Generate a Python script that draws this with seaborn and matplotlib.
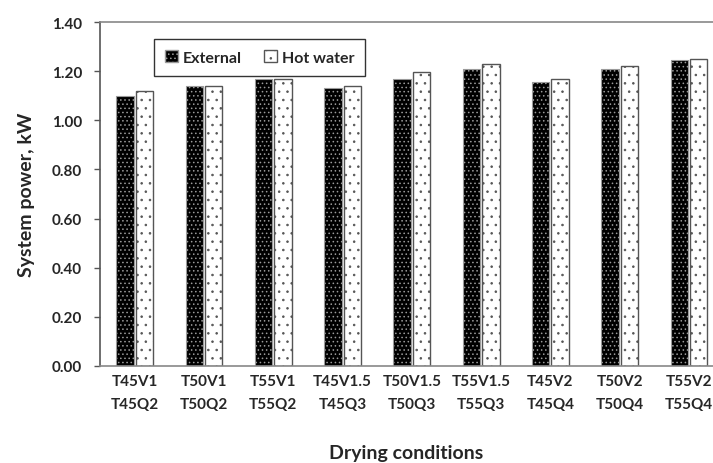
import matplotlib
matplotlib.use("Agg")
import matplotlib.pyplot as plt
import seaborn as sns
import pandas as pd
from matplotlib.patches import Patch

categories = ["T45V1\nT45Q2", "T50V1\nT50Q2", "T55V1\nT55Q2",
              "T45V1.5\nT45Q3", "T50V1.5\nT50Q3", "T55V1.5\nT55Q3",
              "T45V2\nT45Q4", "T50V2\nT50Q4", "T55V2\nT55Q4"]
external = [1.10, 1.14, 1.17, 1.13, 1.17, 1.21, 1.155, 1.21, 1.245]
hot_water = [1.12, 1.14, 1.17, 1.14, 1.195, 1.23, 1.17, 1.22, 1.25]
series = ["External", "Hot water"]
yticks = [0.0, 0.2, 0.4, 0.6, 0.8, 1.0, 1.2, 1.4]

df = pd.DataFrame({
    "cond": categories * 2,
    "value": external + hot_water,
    "series": [series[0]] * len(categories) + [series[1]] * len(categories),
})

sns.set_style("white")
plt.rcParams["font.family"] = ["Lato", "DejaVu Sans"]
plt.rcParams["font.weight"] = "bold"
plt.rcParams["hatch.linewidth"] = 0.6

fig = plt.figure(figsize=(7.13, 4.64), dpi=100)
ax = fig.add_axes([100 / 713, 97 / 464, 613 / 713, 344 / 464])

sns.barplot(data=df, x="cond", y="value", hue="series", order=categories,
            hue_order=series, palette=["black", "white"], width=0.56, gap=0.1,
            ax=ax, legend=False, saturation=1)

n = len(categories)
for i, p in enumerate(ax.patches[:2 * n]):
    if i < n:
        p.set_facecolor("black")
        p.set_edgecolor("#9a9a9a")
        p.set_hatch("....")
        p.set_linewidth(0.8)
    else:
        p.set_facecolor("white")
        p.set_edgecolor("#555555")
        p.set_hatch("..")
        p.set_linewidth(1.0)

ax.set_ylim(0, 1.4)
ax.set_xlim(-0.5, 8.346)
ax.set_yticks(yticks)
ax.set_yticklabels([f"{v:.2f}" for v in yticks], fontsize=11, fontweight="bold")
ax.set_xticks(range(n))
ax.set_xticklabels(categories, fontsize=11, fontweight="bold", linespacing=1.75)

ax.tick_params(axis="y", direction="out", length=4, width=1, color="#555555", pad=9, left=True)
ax.tick_params(axis="x", length=0, pad=6)

ax.spines["left"].set_color("#555555")
ax.spines["left"].set_linewidth(1.2)
for s in ["bottom", "top"]:
    ax.spines[s].set_color("#888888")
    ax.spines[s].set_linewidth(1.2)
ax.spines["right"].set_visible(False)

ax.set_ylabel("System power, kW", fontsize=14, fontweight="bold", labelpad=12)
ax.set_xlabel("Drying conditions", fontsize=14, fontweight="bold", labelpad=24)

handles = [Patch(facecolor="black", edgecolor="#9a9a9a", hatch="...."),
           Patch(facecolor="white", edgecolor="#555555", hatch="..")]
leg = fig.legend(handles, series, loc="center", bbox_to_anchor=(259.5 / 713, 1 - 58.5 / 464),
                 ncol=2, frameon=True, fancybox=False,
                 handlelength=0.8, handleheight=0.8, handletextpad=0.3,
                 columnspacing=1.4, borderpad=0.7, prop={"weight": "bold", "size": 11.5})
leg.get_frame().set_edgecolor("black")
leg.get_frame().set_linewidth(1.0)

fig.savefig("out.png", dpi=100)
